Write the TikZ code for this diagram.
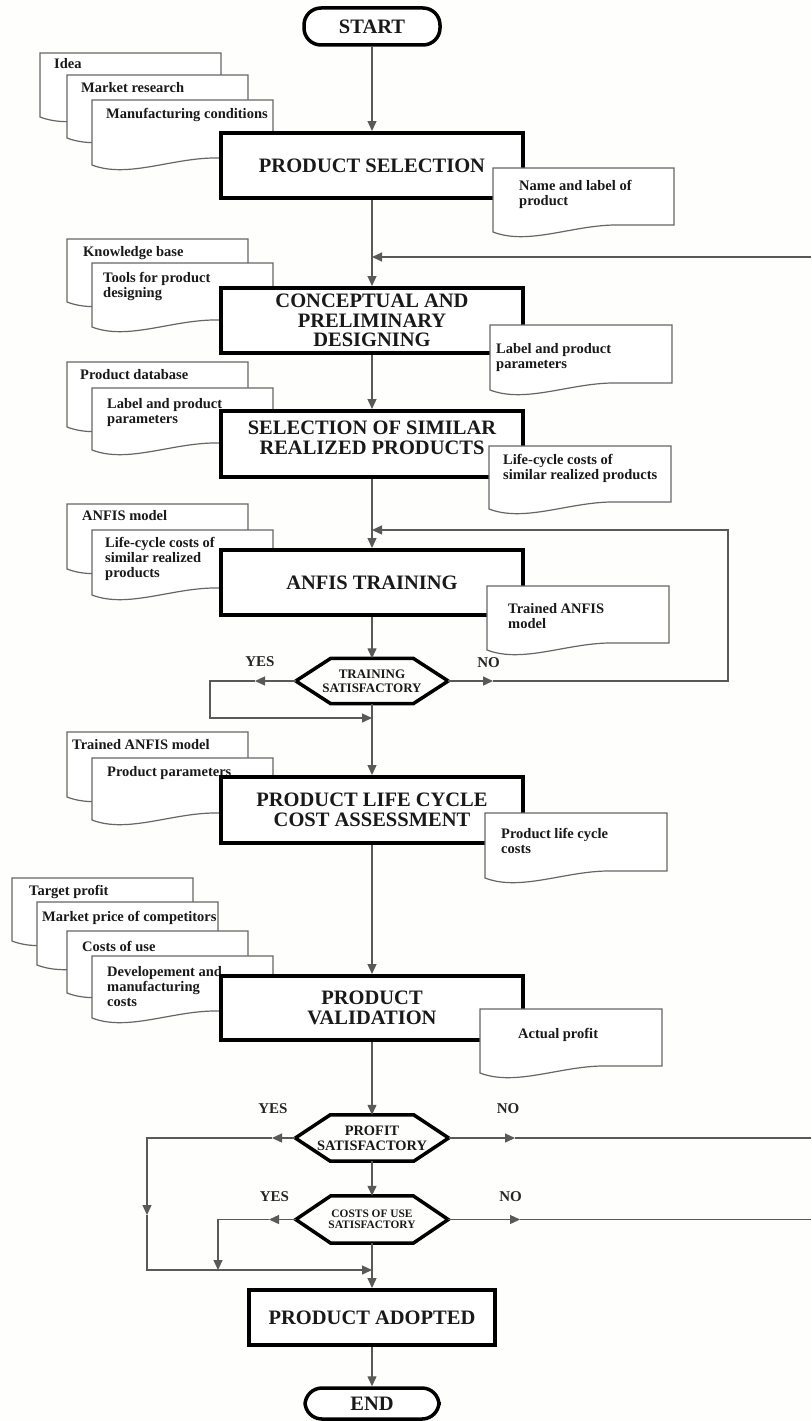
\documentclass[tikz,border=0pt]{standalone}
\usepackage{fontspec}
\setmainfont{Liberation Serif}
\usetikzlibrary{arrows.meta,calc}
\tikzset{
  procbox/.style={draw=black, line width=4pt, fill=white, minimum width=302pt, minimum height=65pt, inner sep=0pt, align=center, font=\fontsize{20.5}{19.5}\selectfont\bfseries, text=black!90},
  termbox/.style={draw=black, line width=3.5pt, fill=white, rounded corners=17pt, minimum width=136pt, minimum height=37pt, inner sep=0pt, font=\fontsize{20.5}{20}\selectfont\bfseries, text=black!90},
  hexnode/.style={minimum width=152pt, minimum height=45pt, inner sep=0pt, align=center, font=\fontsize{13}{14}\selectfont\bfseries, text=black!90},
  hexline/.style={draw=black, line width=3.5pt, line join=miter},
  docline/.style={draw=black!60, line width=1.2pt, fill=white},
  doctext/.style={inner sep=0pt, anchor=north west, align=left, font=\fontsize{14.5}{15}\selectfont\bfseries, text=black!90},
  conn/.style={draw=black!65, line width=1.3pt, -{Triangle[length=10pt,width=9pt]}},
  plain/.style={draw=black!65, line width=1.3pt},
  yn/.style={inner sep=0pt, font=\fontsize{15}{15}\selectfont\bfseries, text=black!85}
}
\newcommand\docu[8]{%
  \begin{scope}[shift={(#2,#3)}]
    \path[docline] (0,0) -- (#4,0) -- (#4,{#5-7}) -- ({0.7*#4},{#5-7})
      .. controls ({0.45*#4},{#5-8}) and ({0.2*#4},{#5+14}) .. (0,#5) -- cycle;
  \end{scope}
  \node[doctext] (#1) at (#6,{#7-5}) {#8};
}
\begin{document}
\begin{tikzpicture}[x=1pt,y=-1pt]
\useasboundingbox (0,0) rectangle (811,1421);
\fill[fill={rgb,255:red,254;green,254;blue,252}] (0,0) rectangle (811,1421);

% left document stacks
\docu{dIdea}{40}{53}{181}{64}{54}{63}{Idea}
\docu{dMarket}{67}{75}{181}{63}{81}{87}{Market research}
\docu{dManuf}{92}{100}{181}{65}{106}{113}{Manufacturing conditions}

\docu{dKnow}{67}{239}{181}{63}{83}{251}{Knowledge base}
\docu{dTools}{92}{263}{181}{64}{103}{277}{Tools for product\\designing}

\docu{dProdDb}{67}{362}{181}{65}{80}{374}{Product database}
\docu{dLabelB}{92}{388}{181}{62}{107}{403}{Label and product\\parameters}

\docu{dAnfis}{67}{504}{181}{65}{82}{515}{ANFIS model}
\docu{dLifeB}{92}{530}{181}{65}{105}{542}{Life-cycle costs of\\similar realized\\products}

\docu{dTrainedB}{67}{732}{181}{65}{72}{744}{Trained ANFIS model}
\docu{dParams}{92}{758}{181}{62}{107}{771}{Product parameters}

\docu{dTarget}{12}{878}{181}{63}{29}{890}{Target profit}
\docu{dPrice}{37}{902}{181}{63}{42}{916}{Market price of competitors}
\docu{dUse}{67}{931}{181}{62}{82}{946}{Costs of use}
\docu{dDevel}{92}{956}{181}{62}{107}{971}{Developement and\\manufacturing\\costs}

% terminals and process boxes
\node[termbox] (start) at (372,26.5) {START};
\node[procbox] (ps) at (372,165.5) {PRODUCT SELECTION};
\node[procbox] (cpd) at (372,320.5) {CONCEPTUAL AND\\PRELIMINARY\\DESIGNING};
\node[procbox, minimum height=66pt] (ssrp) at (372,444) {};
\node[inner sep=0pt, align=center, font=\fontsize{20.5}{19.5}\selectfont\bfseries, text=black!90] (ssrpT) at (372,438) {SELECTION OF SIMILAR\\REALIZED PRODUCTS};
\node[procbox] (anf) at (372,582.5) {ANFIS TRAINING};
\node[procbox, minimum height=66pt] (plc) at (372,810) {PRODUCT LIFE CYCLE\\COST ASSESSMENT};
\node[procbox, minimum height=64pt] (pv) at (372,1008) {PRODUCT\\VALIDATION};
\node[procbox, minimum width=246pt, minimum height=55pt] (pa) at (372,1317.5) {PRODUCT ADOPTED};
\node[termbox, minimum width=134pt, minimum height=31pt] (end) at (372,1403.5) {END};

% right documents (outputs)
\docu{dName}{493}{168}{181}{64}{519}{185}{Name and label of\\product}
\docu{dLabelA}{490}{325}{182}{65}{496}{348}{Label and product\\parameters}
\docu{dLifeA}{489}{446}{182}{63}{503}{459}{Life-cycle costs of\\similar realized products}
\docu{dTrainedA}{487}{586}{182}{64}{508}{608}{Trained ANFIS\\model}
\docu{dPlcc}{485}{813}{182}{65}{501}{833}{Product life cycle\\costs}
\docu{dActual}{480}{1009}{182}{64}{518}{1033}{Actual profit}

% decision hexagons
\node[hexnode] (ts) at (372,681) {TRAINING\\SATISFACTORY};
\node[hexnode, minimum width=153pt, minimum height=46pt, font=\fontsize{14.4}{15}\selectfont\bfseries] (pf) at (372,1138) {PROFIT\\SATISFACTORY};
\node[hexnode, minimum height=47pt, font=\fontsize{11.4}{11}\selectfont\bfseries] (cs) at (372,1219.5) {COSTS OF USE\\SATISFACTORY};
\foreach \h in {ts,pf,cs}{
  \draw[hexline] (\h.west) -- ([xshift=35pt]\h.north west) -- ([xshift=-35pt]\h.north east) -- (\h.east)
    -- ([xshift=-35pt]\h.south east) -- ([xshift=35pt]\h.south west) -- cycle;
}

% main flow
\draw[conn] (start) -- (ps);
\draw[conn] (ps) -- (cpd);
\draw[conn] (cpd) -- (ssrp);
\draw[conn] (ssrp) -- (anf);
\draw[conn] (anf) -- (ts.north);
\draw[conn] (ts.south) -- (plc.north);
\draw[conn] (plc) -- (pv);
\draw[conn] (pv) -- (pf.north);
\draw[conn] (pf.south) -- (cs.north);
\draw[conn] (cs.south) -- (pa.north);
\draw[conn] (pa) -- (end);

% feedback from the right edge
\coordinate (l1) at (811,257);
\draw[conn] (l1) -- (l1 -| ps.south);

% training decision
\coordinate (tsno) at (493,681);
\coordinate (l2a) at (728,681);
\coordinate (l2b) at (728,530);
\draw[conn] (ts.east) -- (tsno);
\draw[conn] (tsno) -- (l2a) -- (l2b) -- (l2b -| anf.north);
\coordinate (tsyes) at (255,681);
\coordinate (y1a) at (210,681);
\coordinate (y1b) at (210,718);
\draw[conn] (ts.west) -- (tsyes);
\draw[conn] (tsyes) -- (y1a) -- (y1b) -- (y1b -| ts.south);

% profit decision
\coordinate (pno) at (515,1138);
\coordinate (pnoe) at (811,1138);
\draw[conn] (pf.east) -- (pno);
\draw[plain] (pno) -- (pnoe);
\coordinate (pyes) at (272,1138);
\coordinate (py1) at (147,1138);
\coordinate (py2) at (147,1215);
\coordinate (py3) at (147,1270);
\draw[conn] (pf.west) -- (pyes);
\draw[conn] (pyes) -- (py1) -- (py2);
\draw[conn] (py2) -- (py3) -- (py3 -| pa.north);

% costs of use decision
\coordinate (cno) at (520,1219.5);
\coordinate (cnoe) at (811,1219.5);
\draw[conn] (cs.east) -- (cno);
\draw[plain] (cno) -- (cnoe);
\coordinate (cyes) at (269,1219.5);
\coordinate (cy1) at (218,1219.5);
\coordinate (cy2) at (218,1270);
\draw[conn] (cs.west) -- (cyes);
\draw[conn] (cyes) -- (cy1) -- (cy2);

% labels
\node[yn] (yes1) at (260,662) {YES};
\node[yn] (no1) at (488.5,663) {NO};
\node[yn] (yes2) at (273,1109) {YES};
\node[yn] (no2) at (508,1109) {NO};
\node[yn] (yes3) at (274.5,1197) {YES};
\node[yn] (no3) at (510.5,1197) {NO};
\end{tikzpicture}
\end{document}
